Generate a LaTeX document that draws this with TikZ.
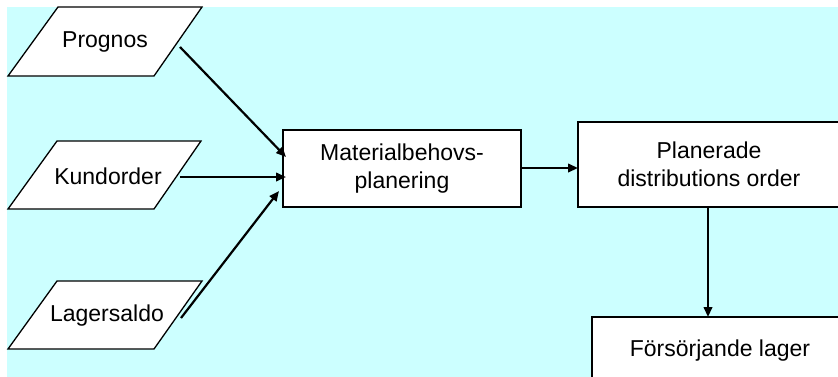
\documentclass[tikz,border=0pt]{standalone}
\usepackage{fontspec}
\setmainfont{Liberation Sans}
\usetikzlibrary{arrows.meta}
\definecolor{bgcyan}{RGB}{204,255,255}
\tikzset{
  txt/.style={font=\fontsize{23}{28.5}\selectfont, align=center, inner sep=0pt},
  procbox/.style={txt, draw=black, line width=1.6pt, fill=white, minimum width=#1, minimum height=77pt},
  inputshape/.style={draw=black, line width=1.3pt, fill=white},
  flow/.style={line width=2.2pt, -{Triangle[length=10pt,width=8.5pt]}}
}
\begin{document}
\begin{tikzpicture}[x=1pt,y=-1pt]
\useasboundingbox (0,0) rectangle (838,376);
\clip (0,0) rectangle (838,376);
\fill[bgcyan] (7,7) rectangle (840,378);

% input parallelograms
\draw[inputshape] (58,7) -- (202,7) -- (154,76) -- (8,76) -- cycle;
\node[txt] (prog) at (105,42) {Prognos};
\draw[inputshape] (57,141) -- (201,141) -- (154,209) -- (8,209) -- cycle;
\node[txt] (kund) at (108,176) {Kundorder};
\draw[inputshape] (57,281) -- (202,281) -- (154,349) -- (8,349) -- cycle;
\node[txt] (lager) at (107,316) {Lagersaldo};

% process boxes
\node[procbox=238pt, minimum height=77pt] (mat) at (402,168.5) {Materialbehovs-\\planering};
\node[procbox=262pt, minimum height=85pt] (plan) at (709,164.5) {Planerade\\distributions order};
\node[procbox=256pt, minimum height=67pt] (fors) at (720,350.5) {Försörjande lager};

% connector endpoints
\coordinate (progout) at (180,47);
\coordinate (progin) at (286,157);
\coordinate (kundout) at (180,177);
\coordinate (kundin) at (286,177);
\coordinate (lagerout) at (181,318);
\coordinate (lagerin) at (279,191);
\coordinate (matout) at (522,168);
\coordinate (planin) at (578,168);
\coordinate (planout) at (708,208);
\coordinate (forsin) at (708,317);

\draw[flow] (progout) -- (progin);
\draw[flow] (kundout) -- (kundin);
\draw[flow] (lagerout) -- (lagerin);
\draw[flow] (matout) -- (planin);
\draw[flow] (planout) -- (forsin);
\end{tikzpicture}
\end{document}
